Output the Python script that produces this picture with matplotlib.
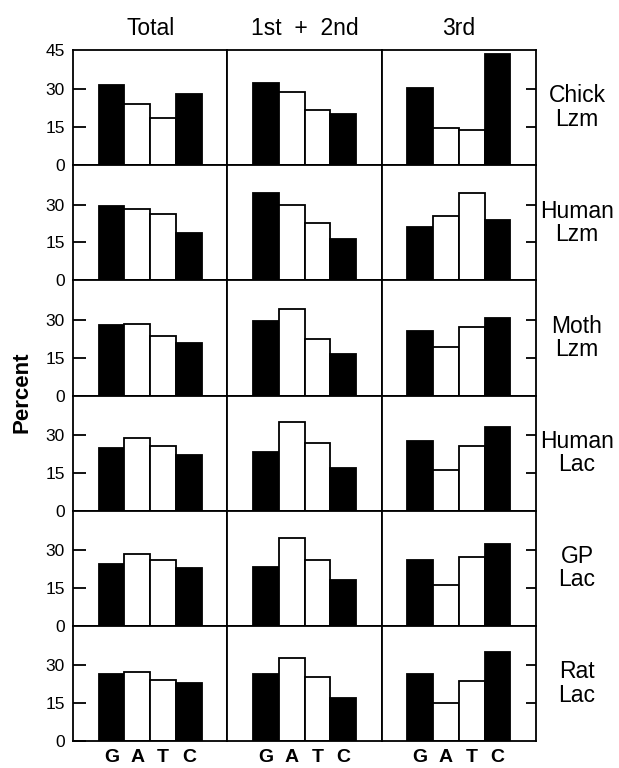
import matplotlib
matplotlib.use("Agg")
import matplotlib.pyplot as plt

plt.rcParams['font.family'] = ['Liberation Sans', 'DejaVu Sans']

bases = ['G', 'A', 'T', 'C']
base_colors = ['black', 'white', 'white', 'black']
columns = ['Total', '1st  +  2nd', '3rd']
rows = ['Chick\nLzm', 'Human\nLzm', 'Moth\nLzm', 'Human\nLac', 'GP\nLac', 'Rat\nLac']

# percent G, A, T, C for each protein gene
total = [
    [31.8, 24.4, 18.8, 28.0],
    [29.6, 28.4, 26.4, 18.8],
    [27.8, 28.5, 23.7, 20.6],
    [24.7, 28.6, 25.8, 22.1],
    [24.5, 28.4, 26.0, 23.0],
    [26.6, 27.4, 24.2, 23.0],
]
first_second = [
    [32.4, 29.1, 21.9, 20.1],
    [34.7, 29.8, 22.8, 16.4],
    [29.5, 34.1, 22.4, 16.3],
    [23.3, 35.1, 26.6, 17.0],
    [23.3, 34.6, 26.2, 18.3],
    [26.6, 33.0, 25.2, 17.2],
]
third = [
    [30.4, 14.8, 13.8, 44.0],
    [21.1, 25.5, 34.4, 23.9],
    [25.5, 19.2, 27.1, 30.8],
    [27.7, 16.1, 25.6, 33.2],
    [26.1, 16.2, 27.2, 32.3],
    [26.6, 15.2, 23.8, 35.2],
]
panels = [total, first_second, third]

fig, axes = plt.subplots(6, 3, figsize=(6.19, 7.68), dpi=100,
                         gridspec_kw={'hspace': 0, 'wspace': 0})
fig.subplots_adjust(left=73 / 619, right=536 / 619, top=1 - 50 / 768, bottom=1 - 741 / 768)

x = list(range(len(bases)))
for c, data in enumerate(panels):
    for r in range(len(rows)):
        ax = axes[r, c]
        ax.bar(x, data[r], width=1.0, color=base_colors, edgecolor='black', linewidth=1.3)
        ax.set_xlim(-1.5, 4.5)
        ax.set_ylim(0, 45.6)
        for s in ax.spines.values():
            s.set_linewidth(1.3)
        ax.tick_params(axis='x', length=0, labelbottom=False)
        ax.set_xticks(x)
        if c == 0:
            ax.set_yticks([0, 15, 30])
            ax.tick_params(axis='y', direction='in', length=9.5, width=1.3,
                           pad=6, labelsize=12.5)
            if r == 0:
                # top label, no tick mark drawn at the frame edge
                ax.annotate('45', xy=(0, 45), xycoords=('axes fraction', 'data'),
                            xytext=(-6, 0), textcoords='offset points',
                            ha='right', va='center', fontsize=12.5)
        elif c == 2:
            ax.set_yticks([15, 30])
            ax.tick_params(axis='y', direction='in', length=7, width=1.3,
                           left=False, labelleft=False, right=True)
        else:
            ax.set_yticks([])
        if r == 0:
            ax.set_title(columns[c], fontsize=16.5, pad=11)
        if r == len(rows) - 1:
            ax.set_xticklabels(bases, fontsize=14, fontweight='bold')
            ax.tick_params(axis='x', labelbottom=True, pad=6)
        if c == 2:
            pos = ax.get_position()
            fig.text(577 / 619, (pos.y0 + pos.y1) / 2, rows[r], ha='center', va='center',
                     fontsize=16.5, linespacing=1.02)

fig.text(22 / 619, 1 - 392 / 768, 'Percent', rotation=90, ha='center', va='center',
         fontsize=16, fontweight='bold')

fig.savefig('out.png', dpi=100)
